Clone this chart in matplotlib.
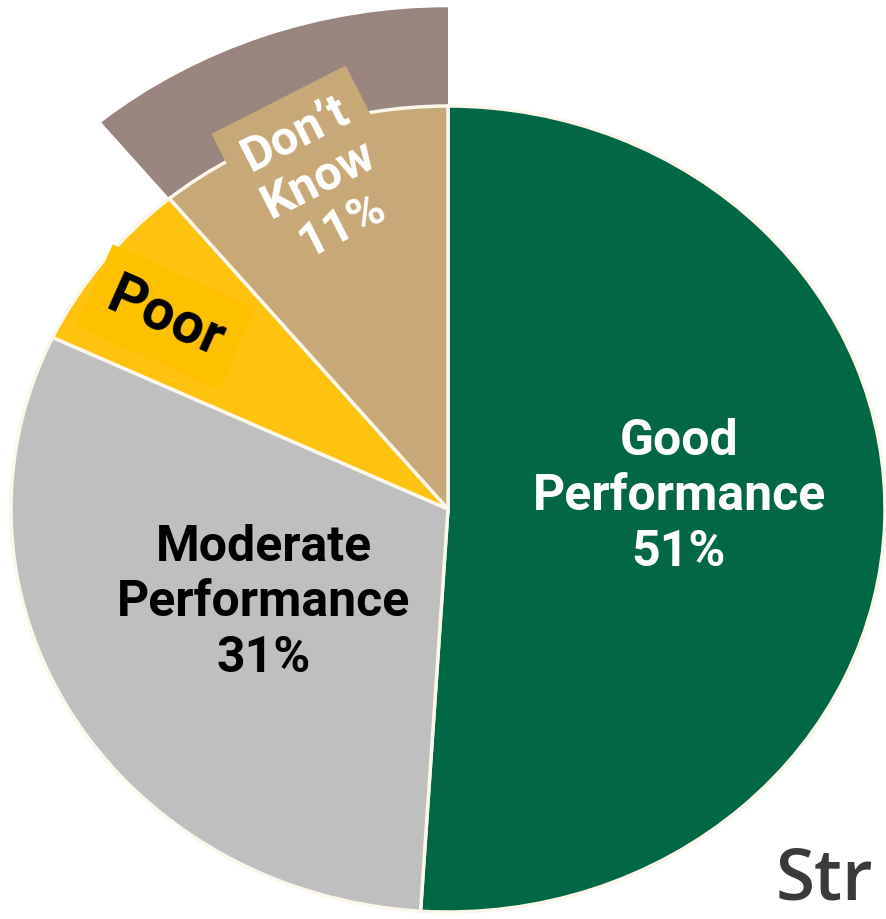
import matplotlib
matplotlib.use("Agg")
import matplotlib.pyplot as plt

# Survey results: rating of performance
categories = ["Good\nPerformance", "Moderate\nPerformance", "Poor", "Don’t\nKnow"]
shares = [51, 31, 7, 11]
colors = ["#016745", "#bfbfbf", "#ffc20f", "#c9a877"]
label_colors = ["white", "black", "black", "white"]

W, H = 886, 920
fig = plt.figure(figsize=(W / 100, H / 100), dpi=100)
ax = fig.add_axes([0, 0, 1, 1])

# Pie centre and radii in pixels (pie is slightly wider than tall)
cx, cy, rx, ry = 448, 510, 437, 403

# Highlighted outer band behind the "Don't Know" slice
ax.pie(shares, startangle=90, counterclock=False, radius=1.245,
       colors=["none", "none", "none", "#9a857e"],
       wedgeprops=dict(linewidth=0))

ax.pie(shares, startangle=90, counterclock=False, radius=1.0,
       colors=colors,
       wedgeprops=dict(edgecolor="#fbf7ea", linewidth=2.5))

ax.set_aspect("auto")
ax.set_xlim(-cx / rx, (W - cx) / rx)
ax.set_ylim(-(H - cy) / ry, cy / ry)
ax.axis("off")


def px(x, y):
    return x / W, 1 - y / H


font = "Roboto"

def pct_label(i):
    return f"{categories[i]}\n{shares[i]}%"

fig.text(*px(679, 497), pct_label(0), ha="center", va="center",
         color=label_colors[0], fontsize=36, fontweight="bold",
         family=font, linespacing=1.24)
fig.text(*px(264, 603), pct_label(1), ha="center", va="center",
         color=label_colors[1], fontsize=36, fontweight="bold",
         family=font, linespacing=1.24)
fig.text(*px(166, 318), categories[2], ha="center", va="center",
         color=label_colors[2], fontsize=41, fontweight="bold",
         family=font, rotation=-24, rotation_mode="anchor",
         bbox=dict(boxstyle="square,pad=0.3", facecolor="#ffc000",
                   edgecolor="none"))
fig.text(*px(319, 180), pct_label(3), ha="center", va="center",
         color=label_colors[3], fontsize=35, fontweight="bold",
         family=font, rotation=27, rotation_mode="anchor",
         linespacing=1.15,
         bbox=dict(boxstyle="square,pad=0.3", facecolor="#c9a877",
                   edgecolor="none"))

# Logo lettering at the lower right corner
fig.text(*px(776, 900), "Str", ha="left", va="baseline",
         color="#3a3a3a", fontsize=51, fontweight="semibold",
         family="Open Sans")

fig.savefig("out.png", dpi=100, facecolor="white")
